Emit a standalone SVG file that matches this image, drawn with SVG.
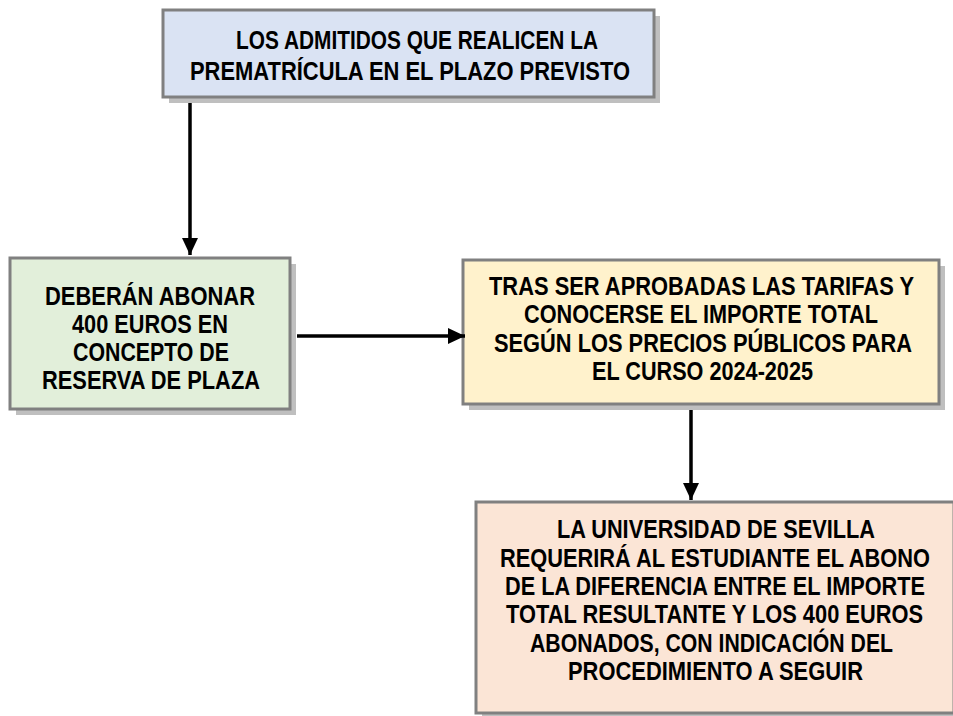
<svg xmlns="http://www.w3.org/2000/svg" width="953" height="716" viewBox="0 0 953 716">
<style>
.shadow{fill:#bfbfbf;}
.box{stroke:#808080;stroke-width:3;}
.t{font-family:"Liberation Sans Narrow","Arial Narrow","Liberation Sans",Arial,sans-serif;font-weight:bold;fill:#000;text-anchor:middle;font-size:25px;}
.conn{stroke:#000;stroke-width:3.5;fill:none;}
</style>
<defs>
<marker id="ah" markerUnits="userSpaceOnUse" markerWidth="18" markerHeight="18" viewBox="0 0 18 18" refX="17" refY="9" orient="auto">
<path d="M0,1 L17,9 L0,17 Z" fill="#000"/>
</marker>
</defs>
<rect width="953" height="716" fill="#fff"/>
<g id="node1">
<rect class="shadow" x="169" y="16" width="491" height="87"/>
<rect class="box" x="163" y="10" width="491" height="87" fill="#dae3f3"/>
<text class="t" x="417" y="49" textLength="362" lengthAdjust="spacingAndGlyphs">LOS ADMITIDOS QUE REALICEN LA</text>
<text class="t" x="410" y="80" textLength="440" lengthAdjust="spacingAndGlyphs">PREMATRÍCULA EN EL PLAZO PREVISTO</text>
</g>
<g id="node2">
<rect class="shadow" x="16" y="264" width="280" height="151"/>
<rect class="box" x="10" y="258" width="280" height="151" fill="#e2efda"/>
<text class="t" x="150" y="305" textLength="210" lengthAdjust="spacingAndGlyphs">DEBERÁN ABONAR</text>
<text class="t" x="150" y="333" textLength="156" lengthAdjust="spacingAndGlyphs">400 EUROS EN</text>
<text class="t" x="151" y="361" textLength="156" lengthAdjust="spacingAndGlyphs">CONCEPTO DE</text>
<text class="t" x="151" y="389" textLength="218" lengthAdjust="spacingAndGlyphs">RESERVA DE PLAZA</text>
</g>
<g id="node3">
<rect class="shadow" x="469" y="266" width="476" height="144"/>
<rect class="box" x="463" y="260" width="476" height="144" fill="#fff2cc"/>
<text class="t" x="701.5" y="295" textLength="425" lengthAdjust="spacingAndGlyphs">TRAS SER APROBADAS LAS TARIFAS Y</text>
<text class="t" x="701" y="323" textLength="354" lengthAdjust="spacingAndGlyphs">CONOCERSE EL IMPORTE TOTAL</text>
<text class="t" x="703" y="352" textLength="418" lengthAdjust="spacingAndGlyphs">SEGÚN LOS PRECIOS PÚBLICOS PARA</text>
<text class="t" x="702.5" y="380" textLength="221" lengthAdjust="spacingAndGlyphs">EL CURSO 2024-2025</text>
</g>
<g id="node4">
<rect class="shadow" x="482" y="508" width="478" height="211"/>
<rect class="box" x="476" y="502" width="478" height="211" fill="#fbe5d6"/>
<text class="t" x="716" y="538" textLength="318" lengthAdjust="spacingAndGlyphs">LA UNIVERSIDAD DE SEVILLA</text>
<text class="t" x="715" y="567" textLength="430" lengthAdjust="spacingAndGlyphs">REQUERIRÁ AL ESTUDIANTE EL ABONO</text>
<text class="t" x="715" y="595" textLength="420" lengthAdjust="spacingAndGlyphs">DE LA DIFERENCIA ENTRE EL IMPORTE</text>
<text class="t" x="714.5" y="623" textLength="417" lengthAdjust="spacingAndGlyphs">TOTAL RESULTANTE Y LOS 400 EUROS</text>
<text class="t" x="711.5" y="652" textLength="363" lengthAdjust="spacingAndGlyphs">ABONADOS, CON INDICACIÓN DEL</text>
<text class="t" x="715.5" y="680" textLength="295" lengthAdjust="spacingAndGlyphs">PROCEDIMIENTO A SEGUIR</text>
</g>
<g id="connectors">
<line class="conn" x1="190" y1="103" x2="190" y2="255" marker-end="url(#ah)"/>
<line class="conn" x1="297" y1="336" x2="465" y2="336" marker-end="url(#ah)"/>
<line class="conn" x1="691" y1="410" x2="691" y2="500" marker-end="url(#ah)"/>
</g>
</svg>
